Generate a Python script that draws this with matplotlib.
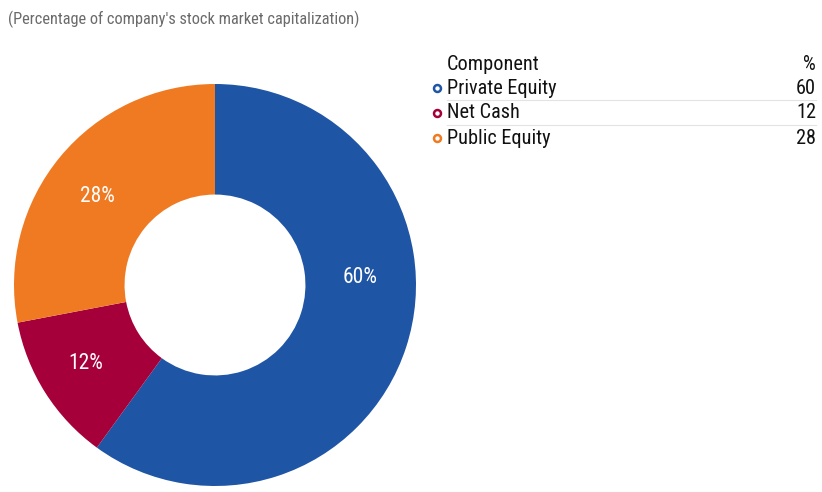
import matplotlib
matplotlib.use("Agg")
import matplotlib.pyplot as plt
from matplotlib import font_manager

components = ["Private Equity", "Net Cash", "Public Equity"]
values = [60, 12, 28]
colors = ["#1F55A5", "#A6003A", "#F07A22"]
title = "(Percentage of company's stock market capitalization)"

avail = {f.name for f in font_manager.fontManager.ttflist}
prefs = ["Roboto Condensed", "Archivo Narrow", "Barlow Semi Condensed",
         "Asap Condensed", "Liberation Sans"]
main = next(p for p in prefs if p in avail)
FAM = [main, "DejaVu Sans"]

W, H = 822, 492
fig = plt.figure(figsize=(W / 100, H / 100), dpi=100)
renderer = fig.canvas.get_renderer()

def fx(px):
    return px / W

def fy(py):
    return 1 - py / H

def fit_size(s, target_px, base=14):
    t = fig.text(0, 0, s, family=FAM, fontsize=base)
    w = t.get_window_extent(renderer).width
    t.remove()
    return base * target_px / w

title_fs = fit_size(title, 354)
leg_fs = fit_size("Private Equity", 110)
lab_fs = fit_size("60%", 35)

# Title
fig.text(fx(8), fy(19), title, family=FAM, fontsize=title_fs, color="#6b6b6b",
         ha="left", va="center")

# Donut
cx, cy, r = 215, 285, 201
ax = fig.add_axes([fx(cx - r), fy(cy + r), 2 * r / W, 2 * r / H])
wedges, _ = ax.pie(values, colors=colors, startangle=90, counterclock=False,
                   radius=1, wedgeprops=dict(width=0.55, linewidth=0))
ax.set_xlim(-1, 1)
ax.set_ylim(-1, 1)
ax.set_aspect("equal")
ax.axis("off")

label_pos = [(0.72, 0.035), (-0.645, -0.39), (-0.587, 0.44)]
for v, (lx, ly) in zip(values, label_pos):
    ax.text(lx, ly, f"{v}%", family=FAM, fontsize=lab_fs, color="white",
            ha="center", va="center")

# Legend table
x_marker, x_label, x_right = 437, 447, 816
fig.text(fx(x_label), fy(64), "Component", family=FAM, fontsize=leg_fs,
         color="#111111", ha="left", va="center")
fig.text(fx(x_right), fy(64), "%", family=FAM, fontsize=leg_fs,
         color="#111111", ha="right", va="center")
row_y = [88, 113, 138]
for i, (name, v, c) in enumerate(zip(components, values, colors)):
    y = row_y[i]
    fig.lines.append(plt.Line2D([fx(x_marker)], [fy(y)], marker="o",
                                markersize=5, markerfacecolor="white",
                                markeredgecolor=c, markeredgewidth=1.8,
                                transform=fig.transFigure))
    fig.text(fx(x_label), fy(y), name, family=FAM, fontsize=leg_fs,
             color="#111111", ha="left", va="center")
    fig.text(fx(x_right), fy(y), str(v), family=FAM, fontsize=leg_fs,
             color="#111111", ha="right", va="center")
    if i < len(components) - 1:
        ly = (row_y[i] + row_y[i + 1]) / 2 - 0.5
        fig.lines.append(plt.Line2D([fx(x_label), fx(x_right)], [fy(ly), fy(ly)],
                                    color="#e3e3e3", linewidth=0.8,
                                    transform=fig.transFigure))

fig.savefig("out.png", dpi=100, facecolor="white")
